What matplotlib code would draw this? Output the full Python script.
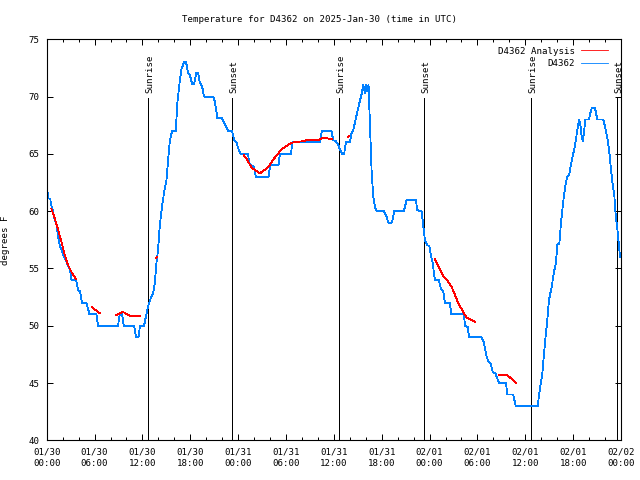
import numpy as np
import matplotlib
matplotlib.use("Agg")
import matplotlib.pyplot as plt

# hours since 2025-01-30 00:00 UTC
obs_hours = [0.0, 0.09, 0.16, 0.46, 0.5, 0.75, 1.0, 1.25, 1.42, 1.67, 1.92, 2.17, 2.42, 2.67, 2.92,
             3.1, 3.68, 3.93, 4.18, 4.43, 4.98, 5.36, 6.23, 6.43, 8.94, 9.16, 9.45, 9.66, 10.95, 11.2,
             11.5, 11.7, 12.2, 12.5, 12.71, 13.05, 13.33, 13.55, 13.76, 13.96, 14.17, 14.46, 14.71,
             15.02, 15.22, 15.43, 15.72, 16.18, 16.39, 16.68, 16.9, 17.22, 17.47, 17.72, 17.94, 18.23,
             18.47, 18.77, 18.98, 19.19, 19.48, 19.73, 20.86, 21.07, 21.41, 21.99, 22.54, 22.74, 23.24,
             23.5, 23.8, 24.0, 24.3, 25.25, 25.38, 25.59, 25.97, 26.22, 27.81, 27.97, 28.06, 29.06,
             29.23, 30.61, 30.82, 34.24, 34.5, 35.71, 35.91, 36.25, 36.54, 36.75, 37.04, 37.29, 37.51,
             38.0, 38.21, 38.42, 38.63, 39.05, 39.47, 39.68, 39.89, 40.02, 40.18, 40.35, 40.52, 40.73,
             40.93, 41.14, 41.36, 42.27, 42.61, 42.81, 43.28, 43.57, 44.78, 45.12, 46.29, 46.45, 46.79,
             47.0, 47.13, 47.29, 47.42, 47.7, 47.95, 48.13, 48.38, 48.67, 49.17, 49.39, 49.71, 49.92,
             50.55, 50.72, 52.31, 52.44, 52.77, 52.97, 54.53, 54.82, 55.16, 55.36, 55.66, 55.91, 56.28,
             56.48, 56.74, 57.58, 57.74, 58.49, 58.79, 61.55, 61.84, 62.13, 62.47, 62.76, 62.97, 63.31,
             63.6, 63.85, 64.01, 64.26, 64.48, 64.69, 64.89, 65.1, 65.27, 65.52, 65.69, 65.94, 66.14,
             66.32, 66.52, 66.77, 66.95, 67.07, 67.2, 67.36, 67.52, 67.99, 68.2, 68.33, 68.74, 69.03,
             69.78, 69.99, 70.28, 70.53, 70.75, 70.96, 71.17, 71.35, 71.55, 71.67, 71.88]
obs_temps = [61.8, 61.8, 61.1, 61.1, 60.7, 60.1, 59.3, 58.8, 57.8, 56.9, 56.5, 56.0, 55.75, 55.2, 54.9,
             54.0, 54.0, 53.1, 53.0, 52.0, 52.0, 51.0, 51.0, 50.0, 50.0, 51.0, 51.0, 50.0, 50.0, 49.0,
             49.0, 50.0, 50.0, 51.0, 51.7, 52.4, 52.8, 53.7, 55.5, 56.6, 58.7, 60.4, 61.6,
             62.75, 64.5, 66.1, 67.0, 67.0, 69.5, 71.35, 72.4, 73.0, 73.0, 72.1, 71.9, 71.1,
             71.1, 72.1, 72.1, 71.2, 70.9, 70.0, 70.0, 69.6, 68.1, 68.1, 67.3, 67.0, 67.0,
             66.2, 66.0, 65.5, 65.0, 65.0, 64.2, 64.0, 63.9, 63.0, 63.0, 63.8, 64.0, 64.0,
             65.0, 65.0, 66.0, 66.0, 67.0, 67.0, 66.2, 66.1, 65.8, 65.4, 65.0, 65.0, 66.0,
             66.0, 66.8, 67.0, 67.7, 69.0, 70.2, 71.0, 70.3, 71.0, 70.5, 71.0, 67.7, 63.6,
             61.3, 60.4, 60.0, 60.0, 59.5, 59.0, 59.0, 60.0, 60.0, 61.0, 61.0, 60.1, 60.0,
             60.0, 59.25, 58.2, 57.5, 57.0, 57.0, 56.3, 55.5, 54.0, 54.0, 53.3, 53.0, 52.0,
             52.0, 51.0, 51.0, 50.0, 49.9, 49.0, 49.0, 48.5, 47.3, 46.9, 46.7, 46.0, 45.8,
             45.4, 45.0, 45.0, 44.0, 44.0, 43.0, 43.0, 44.5, 45.8, 48.5, 50.5, 52.25, 53.4,
             54.7, 55.5, 57.1, 57.1, 59.0, 60.4, 61.6, 62.5, 63.0, 63.2, 63.9, 64.8, 65.4,
             66.1, 67.1, 68.0, 67.3, 66.5, 66.1, 66.8, 68.0, 68.0, 68.7, 69.0, 69.0, 68.0,
             68.0, 67.4, 66.4, 65.2, 63.6, 62.3, 61.3, 59.5, 58.4, 57.5, 56.0]

nan = np.nan
analysis_hours = [0.59, 1.0, 1.42, 1.84, 2.26, 2.67, 3.1, 3.68, nan,
                  5.68, 6.65, nan,
                  8.66, 9.16, 9.57, 10.1, 10.54, 11.75, nan,
                  13.68, 13.8, nan,
                  24.71, 25.25, 25.67, 26.2, 26.72, 27.22, 27.76, 28.39, 29.0, 29.44, 30.07, 30.7,
                  31.32, 32.15, 32.78, 33.4, 34.03, 34.66, 35.29, 35.8, nan,
                  37.75, 37.85, nan,
                  48.67, 49.09, 49.71, 50.34, 50.76, 51.18, 51.6, 52.14, 52.65, 53.27, 53.69, nan,
                  56.7, 57.74, 58.29, 58.79]
analysis_temps = [60.2, 59.4, 58.4, 57.35, 56.2, 55.3, 54.7, 54.05, nan,
                  51.6, 51.1, nan,
                  50.9, 51.1, 51.2, 51.0, 50.85, 50.85, nan,
                  55.9, 56.0, nan,
                  64.9, 64.35, 63.8, 63.55, 63.3, 63.55, 63.85, 64.5, 65.0, 65.4, 65.7, 65.96,
                  66.05, 66.1, 66.25, 66.2, 66.2, 66.4, 66.34, 66.3, nan,
                  66.5, 66.55, nan,
                  55.8, 55.2, 54.35, 53.85, 53.4, 52.7, 51.96, 51.3, 50.7, 50.5, 50.35, nan,
                  45.7, 45.7, 45.35, 45.0]

sun_hours = [12.71, 23.24, 36.63, 47.29, 60.75, 71.46]
sun_labels = ["Sunrise", "Sunset", "Sunrise", "Sunset", "Sunrise", "Sunset"]

tick_hours = list(range(0, 73, 6))
tick_labels = ["01/30\n00:00", "01/30\n06:00", "01/30\n12:00", "01/30\n18:00",
               "01/31\n00:00", "01/31\n06:00", "01/31\n12:00", "01/31\n18:00",
               "02/01\n00:00", "02/01\n06:00", "02/01\n12:00", "02/01\n18:00",
               "02/02\n00:00"]
y_ticks = [40, 45, 50, 55, 60, 65, 70, 75]

FS = 6.6
plt.rcParams['font.family'] = ['DejaVu Sans Mono']
plt.rcParams['font.size'] = FS

fig = plt.figure(figsize=(6.4, 4.8), dpi=100)
ax = fig.add_axes([46.7 / 640, 1 - 440.3 / 480, (621 - 46.7) / 640, (440.3 - 39.3) / 480])

lw = 0.72
dlw = 0.6
for xh, lab in zip(sun_hours, sun_labels):
    ax.vlines(xh, 40, 69.85, color='black', lw=lw, antialiased=False)
    ax.text(xh + 0.25, 70.35, lab, rotation=90, ha='center', va='bottom', fontsize=FS)

ax.plot(analysis_hours, analysis_temps, color='#ff0000', lw=dlw, antialiased=False,
        label='D4362 Analysis', zorder=3)
ax.plot(obs_hours, obs_temps, color='#0080ff', lw=dlw, antialiased=False, label='D4362', zorder=2)

ax.set_xlim(0, 72)
ax.set_ylim(40, 75)
ax.set_xticks(tick_hours)
ax.set_xticklabels(tick_labels, linespacing=1.45)
ax.set_xticks(list(range(0, 73, 2)), minor=True)
ax.set_yticks(y_ticks)
ax.tick_params(axis='both', which='major', direction='in', length=4.5, width=0.72,
               top=True, right=True, pad=5)
ax.tick_params(axis='x', which='minor', direction='in', length=2.5, width=0.72, top=True)
ax.tick_params(axis='y', which='minor', left=False, right=False)
for s in ax.spines.values():
    s.set_linewidth(0.8)

ax.set_ylabel('degrees F', fontsize=FS)
ax.yaxis.set_label_coords(-0.064, 0.5)

fig.text(0.5, 1 - 19 / 480, 'Temperature for D4362 on 2025-Jan-30 (time in UTC)',
         ha='center', va='center', fontsize=FS)

leg = ax.legend(loc='upper right', bbox_to_anchor=(0.99, 1.0), frameon=False, markerfirst=False,
                handlelength=2.9, handletextpad=0.7, labelspacing=0.35, borderaxespad=0.5,
                borderpad=0.3, fontsize=FS)

fig.savefig('out.png', dpi=100)
